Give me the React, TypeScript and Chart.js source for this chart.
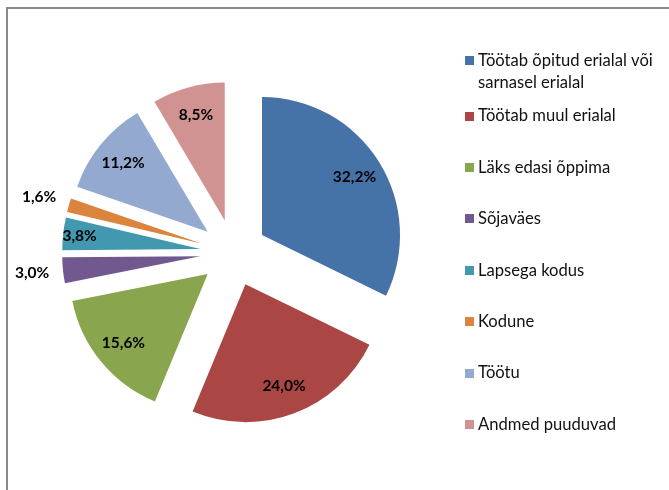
import { useEffect, useRef } from "react";
import { Chart, registerables } from "chart.js";

Chart.register(...registerables);

const categories = [
  "Töötab õpitud erialal või sarnasel erialal",
  "Töötab muul erialal",
  "Läks edasi õppima",
  "Sõjaväes",
  "Lapsega kodus",
  "Kodune",
  "Töötu",
  "Andmed puuduvad",
];
const values = [32.2, 24.0, 15.6, 3.0, 3.8, 1.6, 11.2, 8.5];
const valueLabels = ["32,2%", "24,0%", "15,6%", "3,0%", "3,8%", "1,6%", "11,2%", "8,5%"];
const colors = ["#4572A7", "#AA4643", "#89A54E", "#71588F", "#4198AF", "#DB843D", "#93A9CF", "#D19392"];

const EXPLODE = 33.5;
const FONT = "Lato, 'Open Sans', sans-serif";

const explodePlugin = {
  id: "explodeArcs",
  beforeDatasetDraw(chart: any, args: any) {
    const ctx = chart.ctx;
    args.meta.data.forEach((arc: any) => {
      const mid = (arc.startAngle + arc.endAngle) / 2;
      ctx.save();
      ctx.translate(Math.cos(mid) * EXPLODE, Math.sin(mid) * EXPLODE);
      arc.draw(ctx, chart.chartArea);
      ctx.restore();
    });
    return false;
  },
  afterDatasetsDraw(chart: any) {
    const ctx = chart.ctx;
    const meta = chart.getDatasetMeta(0);
    ctx.save();
    ctx.font = `bold 15.5px ${FONT}`;
    ctx.fillStyle = "#000";
    ctx.textAlign = "center";
    ctx.textBaseline = "middle";
    meta.data.forEach((arc: any, i: number) => {
      const { x, y, startAngle, endAngle, outerRadius } = arc.getProps(["x", "y", "startAngle", "endAngle", "outerRadius"]);
      const mid = (startAngle + endAngle) / 2;
      const v = values[i];
      const d = v < 3.5 ? EXPLODE + outerRadius + 31 : EXPLODE + outerRadius * (v < 5 ? 0.88 : 0.79);
      ctx.fillText(valueLabels[i], x + Math.cos(mid) * d, y + Math.sin(mid) * d);
    });
    ctx.restore();

    // legend
    ctx.save();
    ctx.font = `16.6px ${FONT}`;
    ctx.textAlign = "left";
    ctx.textBaseline = "middle";
    const markerX = 465;
    const textX = 478;
    const maxW = 184;
    categories.forEach((label, i) => {
      const words = label.split(" ");
      const lines: string[] = [];
      let cur = "";
      words.forEach((w) => {
        const t = cur ? cur + " " + w : w;
        if (ctx.measureText(t).width > maxW && cur) {
          lines.push(cur);
          cur = w;
        } else cur = t;
      });
      if (cur) lines.push(cur);
      let y = 116 + (i - 1) * 51.4;
      if (lines.length > 1) y -= 4;
      ctx.fillStyle = colors[i];
      ctx.fillRect(markerX, Math.round(y - 4.5), 9, 9);
      ctx.fillStyle = "#111";
      lines.forEach((ln, k) => ctx.fillText(ln, textX, y + k * 22));
    });
    ctx.restore();
  },
};

export default function App() {
  const ref = useRef<HTMLCanvasElement>(null);
  useEffect(() => {
    if (!ref.current) return;
    const chart = new Chart(ref.current, {
      type: "pie",
      data: {
        labels: categories,
        datasets: [
          {
            data: values,
            backgroundColor: colors,
            borderWidth: 0,
          },
        ],
      },
      options: {
        responsive: false,
        animation: false,
        events: [],
        layout: { padding: { left: 95.6, right: 297.4, top: 114.8, bottom: 99.2 } },
        plugins: {
          legend: { display: false },
          tooltip: { enabled: false },
        },
      },
      plugins: [explodePlugin],
    });
    return () => chart.destroy();
  }, []);
  return (
    <div style={{ position: "absolute", left: 0, top: 0, width: 669, height: 490, background: "#fff", overflow: "hidden" }}>
      <div
        style={{
          position: "absolute",
          left: 6,
          top: 7,
          width: 700,
          height: 520,
          borderLeft: "2px solid #8a8a8a",
          borderTop: "2px solid #8a8a8a",
        }}
      />
      <canvas ref={ref} width={669} height={490} style={{ position: "absolute", left: 0, top: 0 }} />
    </div>
  );
}
